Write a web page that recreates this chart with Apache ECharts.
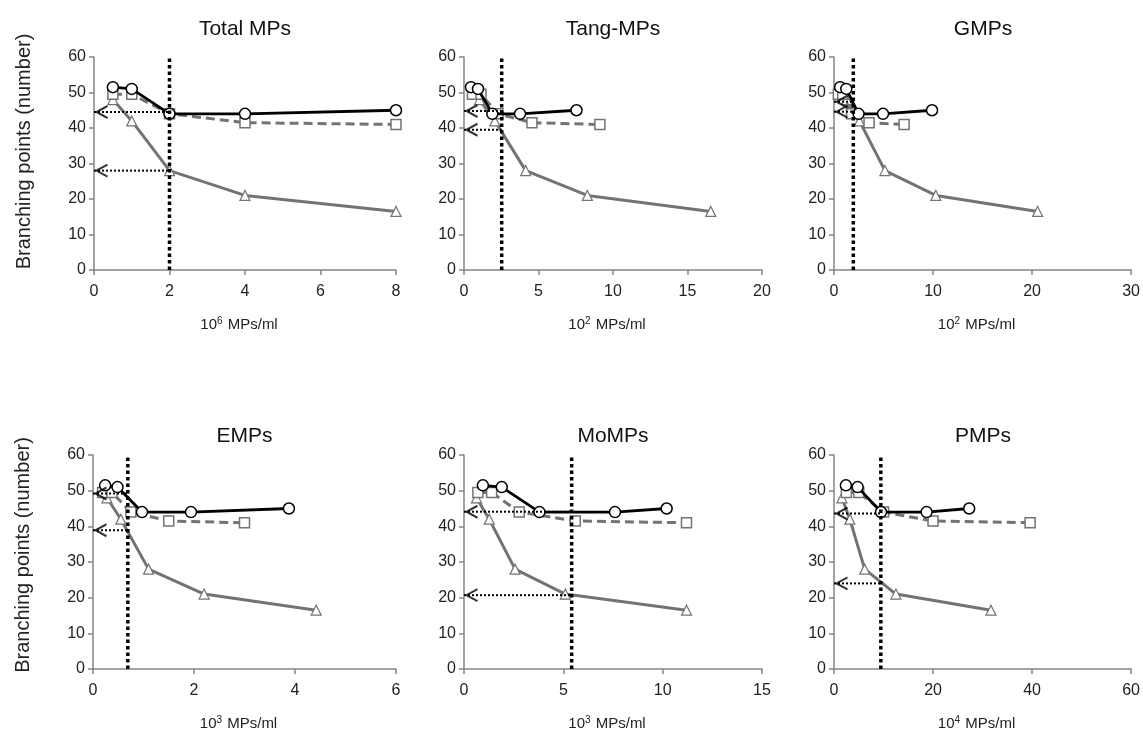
<!DOCTYPE html>
<html>
<head>
<meta charset="utf-8">
<script src="https://cdn.jsdelivr.net/npm/echarts@6/dist/echarts.min.js"></script>
<style>
html,body{margin:0;padding:0;background:#fff;}
#chart{width:1143px;height:732px;}
</style>
</head>
<body>
<div id="chart"></div>
<script>
// ---- data ----
const titles = ['Total MPs', 'Tang-MPs', 'GMPs', 'EMPs', 'MoMPs', 'PMPs'];
const xNameExp = ['6', '2', '2', '3', '3', '4'];
const xNameUnit = 'MPs/ml';
const xMax = [8, 20, 30, 6, 15, 60];
const xInterval = [2, 5, 10, 2, 5, 20];
const yTicks = [0, 10, 20, 30, 40, 50, 60];

const yCircle = [51.5, 51, 44, 44, 45];
const ySquare = [49.5, 49.5, 44, 41.5, 41];
const yTriangle = [48, 42, 28, 21, 16.5];

const xCircle = [
  [0.5, 1, 2, 4, 8],
  [0.47, 0.94, 1.9, 3.76, 7.55],
  [0.62, 1.24, 2.48, 4.95, 9.9],
  [0.24, 0.485, 0.97, 1.94, 3.88],
  [0.95, 1.9, 3.8, 7.6, 10.2],
  [2.4, 4.77, 9.5, 18.7, 27.3]
];
const xSquare = [
  [0.5, 1, 2, 4, 8],
  [0.57, 1.14, 2.28, 4.56, 9.12],
  [0.44, 0.885, 1.77, 3.54, 7.08],
  [0.19, 0.375, 0.75, 1.5, 3.0],
  [0.7, 1.39, 2.78, 5.6, 11.2],
  [2.5, 5, 10, 20, 39.6]
];
const xTriangle = [
  [0.5, 1, 2, 4, 8],
  [1.04, 2.07, 4.14, 8.28, 16.56],
  [1.29, 2.57, 5.14, 10.28, 20.56],
  [0.276, 0.552, 1.1, 2.2, 4.42],
  [0.63, 1.27, 2.57, 5.1, 11.2],
  [1.6, 3.2, 6.2, 12.5, 31.7]
];
const cutoffX = [2, 2.53, 1.95, 0.69, 5.42, 9.46];
const arrowY = [[44.5, 28], [44.8, 39.5], [47.4, 44.6], [49.2, 38.9], [44.1, 20.7], [43.6, 24]];

// ---- layout ----
const gridBoxes = [
  {left: 94, top: 57, width: 302, height: 213},
  {left: 464, top: 57, width: 298, height: 213},
  {left: 834, top: 57, width: 298, height: 213},
  {left: 93, top: 455, width: 303, height: 214},
  {left: 464, top: 455, width: 298, height: 214},
  {left: 834, top: 455, width: 298, height: 214}
];
const SANS = "'Liberation Sans', Arial, sans-serif";
const GREY = '#737373';
const AXIS = '#858585';

const zip = (xs, ys) => xs.map((x, i) => [x, ys[i]]);

const option = {
  backgroundColor: '#fff',
  animation: false,
  title: [],
  grid: [],
  xAxis: [],
  yAxis: [],
  series: []
};

titles.forEach((t, i) => {
  const g = gridBoxes[i];
  option.grid.push({left: g.left, top: g.top, width: g.width, height: g.height});
  option.title.push({
    text: t,
    left: g.left + g.width / 2 - 5,
    top: i < 3 ? 14 : 421,
    textAlign: 'center',
    textStyle: {fontFamily: SANS, fontSize: 21, fontWeight: 'normal', color: '#111'}
  });
  option.xAxis.push({
    type: 'value', gridIndex: i, min: 0, max: xMax[i], interval: xInterval[i],
    name: '10{sup|' + xNameExp[i] + '} ' + xNameUnit,
    nameLocation: 'middle', nameGap: 46,
    nameTextStyle: {
      fontFamily: SANS, fontSize: 15, color: '#222', padding: [0, 12, 0, 0],
      rich: {sup: {fontFamily: SANS, fontSize: 10, color: '#222', padding: [0, 1, 7, 0]}}
    },
    axisLine: {lineStyle: {color: AXIS, width: 1.5}},
    axisTick: {show: true, length: 5, lineStyle: {color: AXIS, width: 1.5}},
    axisLabel: {fontFamily: SANS, fontSize: 16, color: '#222', margin: 14},
    splitLine: {show: false}
  });
  option.yAxis.push({
    type: 'value', gridIndex: i, min: 0, max: 60, interval: 10,
    name: (i % 3 === 0) ? 'Branching points (number)' : '',
    nameLocation: 'middle', nameGap: 60,
    nameTextStyle: {fontFamily: SANS, fontSize: 20, color: '#222', padding: [0, 0, 0, i < 3 ? 24 : 14]},
    axisLine: {show: true, lineStyle: {color: AXIS, width: 1.5}},
    axisTick: {show: true, length: 5, lineStyle: {color: AXIS, width: 1.5}},
    axisLabel: {fontFamily: SANS, fontSize: 16, color: '#222', margin: 8,
      formatter: v => yTicks.includes(v) ? String(v) : ''},
    splitLine: {show: false}
  });

  // triangles (grey solid)
  option.series.push({
    type: 'line', xAxisIndex: i, yAxisIndex: i, z: 3,
    data: zip(xTriangle[i], yTriangle),
    symbol: 'triangle', symbolSize: 10, showAllSymbol: true,
    lineStyle: {color: GREY, width: 3},
    itemStyle: {color: '#fff', borderColor: GREY, borderWidth: 1.2}
  });
  // squares (grey dashed)
  option.series.push({
    type: 'line', xAxisIndex: i, yAxisIndex: i, z: 4,
    data: zip(xSquare[i], ySquare),
    symbol: 'rect', symbolSize: 10, showAllSymbol: true,
    lineStyle: {color: GREY, width: 3, type: [9, 5]},
    itemStyle: {color: '#fff', borderColor: GREY, borderWidth: 1.5}
  });
  // circles (black solid)
  option.series.push({
    type: 'line', xAxisIndex: i, yAxisIndex: i, z: 5,
    data: zip(xCircle[i], yCircle),
    symbol: 'circle', symbolSize: 11, showAllSymbol: true,
    lineStyle: {color: '#000', width: 2.8},
    itemStyle: {color: '#fff', borderColor: '#000', borderWidth: 1.5}
  });
  // cutoff vertical dotted line
  option.series.push({
    type: 'line', xAxisIndex: i, yAxisIndex: i, z: 6,
    data: [[cutoffX[i], 0], [cutoffX[i], 60]],
    symbol: 'none', silent: true,
    lineStyle: {color: '#000', width: 3.5, type: [3.5, 3]}
  });
  // arrows
  arrowY[i].forEach(ay => {
    option.series.push({
      type: 'line', xAxisIndex: i, yAxisIndex: i, z: 7,
      data: [[0, ay], [cutoffX[i], ay]],
      symbol: 'none', silent: true,
      lineStyle: {color: '#000', width: 2, type: [2, 2]}
    });
    option.series.push({
      type: 'scatter', xAxisIndex: i, yAxisIndex: i, z: 8,
      data: [[0, ay]],
      symbol: 'path://M12,0 L0,6 L12,12', symbolSize: [11, 12], symbolOffset: [8, 0],
      silent: true,
      itemStyle: {color: 'rgba(0,0,0,0)', borderColor: '#000', borderWidth: 2}
    });
  });
});

const chart = echarts.init(document.getElementById('chart'), null, {renderer: 'canvas'});
chart.setOption(option);
</script>
</body>
</html>
